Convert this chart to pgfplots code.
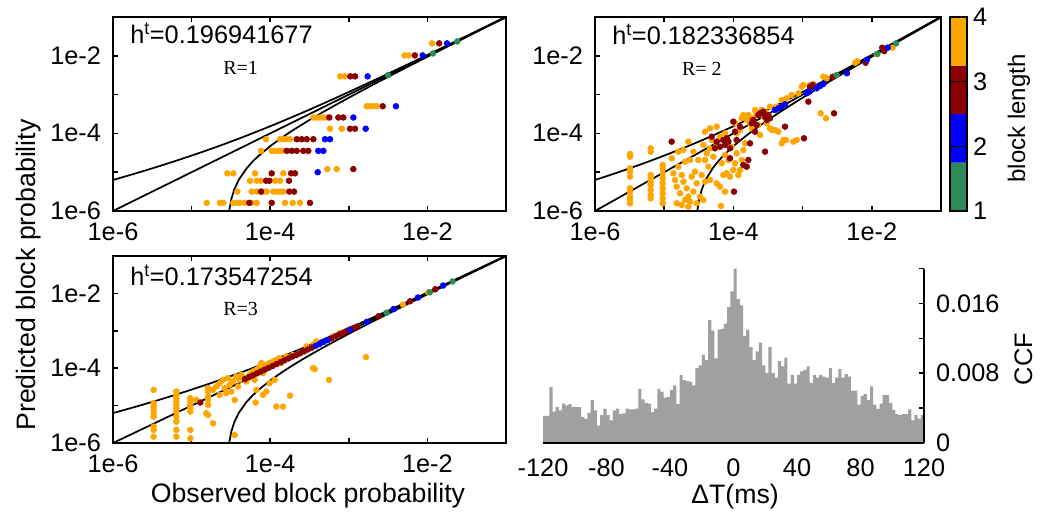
\documentclass[border=0pt]{standalone}
\usepackage{fontspec}
\setmainfont{Liberation Sans}
\newfontfamily\serifR{Liberation Serif}
\usepackage{pgfplots}
\usepackage{pgfplotstable}
\pgfplotsset{compat=1.18}

\definecolor{corange}{HTML}{FFA500}
\definecolor{cred}{HTML}{8B0000}
\definecolor{cblue}{HTML}{0000FF}
\definecolor{cgreen}{HTML}{2E8B57}
\definecolor{cgray}{HTML}{A0A0A0}

% curves in log10 units
\pgfplotstableread{
lx ly
-6 -5.2007
-5.699 -5.0227
-5.523 -4.9144
-5.301 -4.7734
-5 -4.5725
-4.699 -4.3595
-4.523 -4.2289
-4.301 -4.0581
-4 -3.8153
-3.699 -3.5607
-3.523 -3.4069
-3.301 -3.2086
-3 -2.9327
-2.699 -2.6503
-2.523 -2.4828
-2.301 -2.2696
-2 -1.9776
-1.699 -1.683
-1.301 -1.2909
-1 -0.9928
}\upcurve
\pgfplotstableread{
lx ly
-4.5498 -7.26
-4.5452 -6.686
-4.5376 -6.337
-4.5229 -6.013
-4.4949 -5.695
-4.4559 -5.438
-4.3979 -5.188
-4.301 -4.902
-4.2218 -4.7224
-4.1549 -4.5907
-4 -4.3279
-3.8239 -4.0701
-3.699 -3.9029
-3.5229 -3.6815
-3.301 -3.4185
-3 -3.0797
-2.699 -2.7537
-2.301 -2.3349
-2 -2.0237
-1.699 -1.7156
-1.301 -1.3114
-1 -1.0073
}\lowcurve
\pgfplotstableread{
lx ly
-6 -6
-1 -1
}\diagline

\pgfplotstableread{
t ccf
-120 0.0031
-118 0.0031
-116 0.0064
-114 0.0036
-112 0.0041
-110 0.00375
-108 0.0045
-106 0.0043
-104 0.00445
-102 0.0041
-100 0.0041
-98 0.0041
-96 0.0030
-94 0.0028
-92 0.00345
-90 0.0049
-88 0.00375
-86 0.0020
-84 0.0032
-82 0.00395
-80 0.0032
-78 0.0026
-76 0.00375
-74 0.00395
-72 0.0033
-70 0.0034
-68 0.00395
-66 0.00385
-64 0.00385
-62 0.00395
-60 0.0062
-58 0.0050
-56 0.0046
-54 0.0045
-52 0.00355
-50 0.00395
-48 0.0062
-46 0.0059
-44 0.0052
-42 0.0053
-40 0.0061
-38 0.0066
-36 0.00445
-34 0.0078
-32 0.0072
-30 0.0071
-28 0.0070
-26 0.0066
-24 0.0086
-22 0.0089
-20 0.0101
-18 0.0095
-16 0.0141
-14 0.0129
-12 0.0097
-10 0.0130
-8 0.0131
-6 0.0137
-4 0.0156
-2 0.0174
0 0.0200
2 0.0165
4 0.0158
6 0.0123
8 0.0130
10 0.0110
12 0.0095
14 0.0105
16 0.0115
18 0.0089
20 0.0080
22 0.0110
24 0.0080
26 0.0075
28 0.0094
30 0.0088
32 0.0098
34 0.0068
36 0.0078
38 0.0068
40 0.0078
42 0.0082
44 0.0084
46 0.0088
48 0.0069
50 0.0078
52 0.0075
54 0.0078
56 0.0076
58 0.0075
60 0.0086
62 0.0069
64 0.0075
66 0.0085
68 0.0075
70 0.0079
72 0.0076
74 0.0060
76 0.0060
78 0.0044
80 0.0054
82 0.0056
84 0.0049
86 0.0065
88 0.0044
90 0.0039
92 0.0045
94 0.0055
96 0.0055
98 0.0046
100 0.0038
102 0.0033
104 0.0032
106 0.0033
108 0.0033
110 0.00385
112 0.0026
114 0.0032
116 0.0028
118 0.0032
120 0.0032
}\ccftable

\pgfplotsset{
  sc/.style={
    scale only axis, anchor=north west,
    xmin=-6, xmax=-1, ymin=-6, ymax=-1,
    xtick={-6,-5,-4,-3,-2}, xticklabels={1e-6,,1e-4,,1e-2},
    ytick={-6,-5,-4,-3,-2}, yticklabels={1e-6,,1e-4,,1e-2},
    tick align=inside, ytick pos=left, xtick pos=both,
    major tick length=3.75pt,
    axis line style={line width=1.5pt},
    tick style={line width=1.2pt, black},
    tick label style={font=\fontsize{19}{22}\selectfont},
    xticklabel style={yshift=-5.5pt},
    yticklabel style={xshift=-5.5pt},
  },
  pts/.style={only marks, mark=*, mark size=2.2pt},
  crv/.style={black, line width=1.3pt},
}

\begin{document}
\begin{tikzpicture}
\useasboundingbox (0,0) rectangle (783pt,-386.25pt);

% ---------------- Panel 1 (R=1) ----------------
\begin{axis}[sc, at={(84.75pt,-12.75pt)}, width=294.75pt, height=145.5pt]
\addplot[crv] table {\diagline};
\addplot[crv, smooth] table {\upcurve};
\addplot[crv] table {\lowcurve};
\addplot[pts, corange] coordinates {
(-4.808,-5.79) (-4.639,-5.79) (-4.596,-5.79) (-4.469,-5.79) (-4.427,-5.79) (-4.384,-5.79) (-4.321,-5.79) (-4.236,-5.79) (-4.172,-5.79) (-3.812,-5.79) (-3.714,-5.79) (-3.621,-5.79)
(-4.418,-5.50) (-4.236,-5.50) (-4.172,-5.50) (-4.087,-5.50) (-4.045,-5.50) (-3.960,-5.50) (-3.918,-5.50) (-3.875,-5.50) (-3.833,-5.50)
(-4.257,-5.22) (-4.172,-5.22) (-4.121,-5.22) (-3.939,-5.22) (-3.875,-5.22)
(-4.545,-5.03) (-4.469,-5.03) (-4.194,-5.03) (-3.833,-5.03)
(-3.273,-4.92) (-3.154,-4.92)
(-4.117,-4.45) (-3.981,-4.45) (-3.939,-4.45) (-3.897,-4.45) (-3.854,-4.45)
(-4.053,-4.15) (-3.875,-4.15) (-3.833,-4.15) (-3.791,-4.15) (-3.748,-4.15)
(-3.239,-3.88) (-3.091,-3.88)
(-3.451,-3.59) (-3.409,-3.59) (-3.367,-3.59) (-3.324,-3.59) (-3.282,-3.59)
(-2.773,-3.30) (-2.730,-3.30) (-2.688,-3.30) (-2.646,-3.30)
(-3.11,-2.53) (-3.05,-2.53)
(-2.29,-1.99) (-2.24,-1.99)
(-1.94,-1.68)
};
\addplot[pts, cred] coordinates {
(-4.265,-5.79) (-3.981,-5.79) (-3.494,-5.79)
(-4.117,-5.50) (-3.757,-5.50) (-3.697,-5.50)
(-4.053,-5.22) (-4.011,-5.22) (-3.761,-5.22)
(-3.981,-5.03) (-3.735,-5.03) (-3.685,-5.03)
(-2.942,-4.92)
(-3.791,-4.45) (-3.727,-4.45) (-3.663,-4.45) (-3.579,-4.45) (-3.515,-4.45)
(-3.663,-4.15) (-3.600,-4.15) (-3.536,-4.15) (-3.451,-4.15)
(-2.985,-3.88) (-2.921,-3.88)
(-3.248,-3.59) (-3.133,-3.59) (-3.070,-3.59)
(-2.569,-3.30)
(-2.98,-2.53) (-2.92,-2.53)
(-2.16,-1.99)
(-1.85,-1.68)
};
\addplot[pts, cblue] coordinates {
(-3.396,-5.00) (-3.388,-4.45) (-3.324,-4.45) (-3.303,-4.15) (-3.239,-4.15)
(-2.785,-3.88) (-2.942,-3.59) (-2.400,-3.30) (-2.76,-2.53) (-2.06,-1.99) (-1.75,-1.68)
};
\addplot[pts, cgreen] coordinates {(-2.50,-2.50) (-1.93,-1.94) (-1.62,-1.63)};
\end{axis}

% ---------------- Panel 2 (R=2) ----------------
\begin{axis}[sc, at={(446.25pt,-12.75pt)}, width=259.5pt, height=145.5pt]
\addplot[crv] table {\diagline};
\addplot[crv, smooth] table {\upcurve};
\addplot[crv] table {\lowcurve};
\addplot[pts, corange] coordinates {
(-5.494,-4.531) (-5.494,-4.600) (-5.494,-4.900) (-5.494,-4.986) (-5.494,-5.115) (-5.494,-5.416) (-5.494,-5.501) (-5.494,-5.630) (-5.494,-5.716) (-5.494,-5.802)
(-5.195,-4.385) (-5.195,-4.471) (-5.195,-5.072) (-5.195,-5.158) (-5.195,-5.244) (-5.195,-5.330) (-5.195,-5.459) (-5.195,-5.587) (-5.195,-5.673)
(-5.022,-4.814) (-5.022,-4.900) (-5.022,-5.029) (-5.022,-5.158) (-5.022,-5.287) (-5.022,-5.416) (-5.022,-5.544) (-5.022,-5.673) (-5.022,-5.802)
(-4.892,-4.642) (-4.868,-5.029) (-4.844,-5.201) (-4.820,-5.373) (-4.796,-4.857) (-4.771,-5.544) (-4.747,-5.072) (-4.723,-5.244)
(-4.699,-4.728) (-4.675,-5.416) (-4.651,-5.630) (-4.627,-5.759) (-4.603,-5.115) (-4.579,-5.501) (-4.820,-5.802) (-4.747,-5.845)
(-4.699,-5.716) (-4.627,-4.685) (-4.579,-4.471) (-4.651,-4.213) (-4.723,-4.428) (-4.796,-4.471) (-4.555,-4.986) (-4.531,-5.287)
(-4.507,-4.685) (-4.482,-5.630) (-4.458,-5.072) (-4.434,-4.299) (-4.410,-4.685) (-4.386,-4.514) (-4.362,-4.857) (-4.338,-4.385)
(-4.314,-4.170) (-4.290,-4.600) (-4.410,-5.244) (-4.338,-5.201) (-4.242,-5.287) (-4.242,-4.299) (-4.193,-4.084) (-4.169,-4.771)
(-4.145,-5.072) (-4.121,-4.557) (-4.097,-5.029) (-4.073,-4.685) (-4.049,-5.115) (-4.025,-4.342) (-4.001,-4.943) (-3.977,-4.771)
(-3.953,-4.514) (-3.929,-5.072) (-3.904,-3.912) (-3.880,-4.685) (-3.856,-4.428) (-3.832,-4.256) (-3.808,-3.654) (-3.784,-3.526)
(-3.760,-3.740) (-3.736,-3.869) (-3.712,-3.611) (-3.664,-3.483) (-3.640,-3.783) (-3.615,-4.041) (-3.567,-3.568) (-3.519,-3.740)
(-3.471,-3.869) (-3.447,-3.912) (-3.399,-3.912) (-3.350,-3.955) (-3.302,-4.256) (-3.278,-4.170) (-3.240,-4.170) (-3.134,-4.213)
(-3.086,-4.170) (-4.410,-3.955) (-4.338,-3.869) (-4.242,-3.826) (-4.121,-3.998) (-3.953,-3.998) (-3.977,-3.740) (-3.880,-3.611)
(-3.856,-3.526) (-3.688,-3.397) (-3.591,-3.397) (-3.543,-3.440) (-3.471,-3.311) (-3.375,-3.311) (-3.302,-3.139) (-3.230,-3.096)
(-3.158,-3.010) (-3.061,-2.967) (-3.013,-2.795) (-2.989,-2.752) (-2.893,-2.752) (-2.845,-2.727) (-2.700,-2.538) (-2.652,-2.581)
(-2.739,-3.483) (-2.662,-3.611)
(-4.193,-5.373) (-4.121,-5.501) (-4.531,-5.802) (-4.434,-5.716) (-4.651,-5.888) (-4.18,-5.87) (-3.904,-4.943)
(-2.21,-2.14) (-2.24,-2.18) (-1.93,-1.96) (-1.70,-1.79)
};
\addplot[pts, cred] coordinates {
(-4.892,-4.213) (-4.314,-4.084) (-4.266,-4.385) (-4.242,-4.213) (-4.193,-4.342) (-4.145,-4.170) (-4.121,-4.299) (-4.097,-4.127)
(-4.073,-4.213) (-4.049,-4.385) (-4.001,-3.697) (-3.977,-3.955) (-3.953,-4.170) (-3.904,-3.826) (-3.856,-4.814) (-3.808,-4.857)
(-3.760,-4.256) (-3.736,-3.740) (-3.712,-3.654) (-3.688,-3.955) (-3.640,-3.526) (-3.615,-3.483) (-3.567,-3.440) (-3.543,-3.568)
(-3.519,-3.654) (-3.495,-3.526) (-3.471,-3.611) (-3.664,-3.783) (-3.543,-4.471) (-3.254,-3.826) (-2.980,-4.127) (-3.991,-5.501)
(-4.049,-4.642) (-3.784,-4.685) (-2.917,-3.182) (-2.893,-2.795) (-2.854,-2.752) (-2.565,-2.538) (-2.546,-3.483)
(-2.09,-2.18) (-1.85,-1.79) (-1.82,-1.88)
};
\addplot[pts, cblue] coordinates {
(-3.399,-3.397) (-3.350,-3.354) (-3.302,-3.311) (-3.254,-3.251) (-2.941,-2.967) (-2.903,-2.924) (-2.797,-2.838) (-2.748,-2.778)
(-2.700,-2.727) (-2.36,-2.45) (-2.07,-2.10) (-1.77,-1.79)
};
\addplot[pts, cgreen] coordinates {(-2.508,-2.495) (-1.92,-1.95) (-1.65,-1.68)};
\end{axis}

% ---------------- Colour bar ----------------
\begin{axis}[scale only axis, anchor=north west, at={(712.5pt,-12.75pt)},
  width=12.75pt, height=145.5pt, xmin=0, xmax=1, ymin=1, ymax=4,
  xtick=\empty, ytick={1,2,3,4}, yticklabels={1,2,3,4},
  ytick pos=right, yticklabel pos=right,
  tick align=inside, major tick length=12.75pt, axis on top,
  axis line style={line width=1.5pt}, tick style={line width=1.2pt, black},
  tick label style={font=\fontsize{19}{22}\selectfont},
  yticklabel style={xshift=1pt}]
\addplot[fill=cgreen, draw=none] coordinates {(0,1) (1,1) (1,1.75) (0,1.75) (0,1)};
\addplot[fill=cblue, draw=none] coordinates {(0,1.75) (1,1.75) (1,2.5) (0,2.5) (0,1.75)};
\addplot[fill=cred, draw=none] coordinates {(0,2.5) (1,2.5) (1,3.25) (0,3.25) (0,2.5)};
\addplot[fill=corange, draw=none] coordinates {(0,3.25) (1,3.25) (1,4) (0,4) (0,3.25)};
\end{axis}

% ---------------- Panel 3 (R=3) ----------------
\begin{axis}[sc, at={(84.75pt,-192pt)}, width=294.75pt, height=140.25pt]
\addplot[crv] table {\diagline};
\addplot[crv, smooth] table {\upcurve};
\addplot[crv] table {\lowcurve};
\addplot[pts, corange] coordinates {
(-5.483,-4.579) (-5.483,-4.936) (-5.483,-5.026) (-5.483,-5.115) (-5.483,-5.205) (-5.483,-5.294) (-5.483,-5.562) (-5.483,-5.651) (-5.483,-5.830)
(-5.194,-4.624) (-5.194,-4.713) (-5.194,-4.802) (-5.194,-4.892) (-5.194,-4.981) (-5.194,-5.070) (-5.194,-5.160) (-5.194,-5.294) (-5.194,-5.428) (-5.194,-5.651) (-5.194,-5.830)
(-5.016,-4.802) (-5.016,-4.892) (-5.016,-4.981) (-5.016,-5.070) (-5.016,-5.160) (-5.016,-5.651) (-5.016,-5.875)
(-4.791,-4.534) (-4.791,-4.624) (-4.791,-4.758) (-4.791,-4.847) (-4.791,-4.981) (-4.791,-5.249) (-4.728,-5.473)
(-4.728,-4.579) (-4.685,-4.489) (-4.643,-4.400) (-4.643,-4.713) (-4.601,-4.311) (-4.579,-4.534) (-4.558,-4.668) (-4.537,-4.266)
(-4.516,-4.445) (-4.494,-4.624) (-4.473,-4.355) (-4.452,-4.847) (-4.431,-4.221) (-4.410,-4.489) (-4.388,-4.311) (-4.367,-4.177)
(-4.325,-4.266) (-4.304,-4.355) (-4.261,-4.177) (-4.219,-4.087) (-4.198,-4.311) (-4.176,-4.043) (-4.134,-3.953) (-4.113,-3.864)
(-4.092,-4.132) (-4.070,-3.998) (-4.049,-3.909) (-4.007,-3.864) (-3.986,-3.953) (-3.964,-3.819) (-3.922,-3.775) (-3.880,-3.730)
(-3.858,-3.864) (-3.795,-3.685) (-3.710,-3.641) (-3.625,-3.596) (-3.540,-3.417) (-3.455,-3.372) (-3.413,-3.283) (-3.243,-3.238)
(-3.201,-3.149) (-3.116,-3.060) (-4.176,-4.579) (-4.092,-4.713) (-4.049,-4.624) (-4.007,-4.400) (-3.943,-4.311) (-3.922,-5.026)
(-3.837,-5.026) (-4.185,-4.918) (-3.455,-3.998) (-3.434,-4.025) (-3.252,-4.311) (-4.452,-5.785) (-4.813,-5.205) (-4.940,-4.847)
(-3.748,-4.732) (-2.781,-3.703) (-3.00,-2.96) (-2.31,-2.30) (-1.99,-1.97)
};
\addplot[pts, cred] coordinates {
(-4.889,-4.918)
(-4.32,-4.29) (-4.27,-4.24) (-4.22,-4.19) (-4.17,-4.14) (-4.12,-4.09) (-4.07,-4.04) (-4.02,-3.99) (-3.97,-3.94) (-3.92,-3.89)
(-3.87,-3.84) (-3.82,-3.79) (-3.77,-3.74) (-3.72,-3.69) (-3.67,-3.65) (-3.62,-3.60) (-3.57,-3.55) (-3.52,-3.50) (-3.47,-3.45)
(-3.22,-3.20) (-3.17,-3.15) (-3.12,-3.10) (-3.07,-3.05) (-3.03,-3.01) (-2.95,-2.94) (-2.90,-2.89) (-2.62,-2.61) (-2.22,-2.21) (-1.90,-1.89)
};
\addplot[pts, cblue] coordinates {
(-3.42,-3.40) (-3.37,-3.35) (-3.32,-3.30) (-3.27,-3.25) (-2.985,-2.97) (-2.77,-2.76) (-2.43,-2.42) (-2.12,-2.11) (-1.80,-1.79)
};
\addplot[pts, cgreen] coordinates {(-2.52,-2.52) (-1.97,-1.97) (-1.68,-1.68)};
\end{axis}

% ---------------- Panel 4: CCF histogram ----------------
\begin{axis}[scale only axis, anchor=north west, at={(407.25pt,-201.5pt)},
  width=285.75pt, height=130.7pt,
  xmin=-120, xmax=120, ymin=0, ymax=0.02,
  axis x line*=bottom, axis y line*=right, axis on top,
  axis line style={line width=1.8pt},
  xtick={-120,-80,-40,0,40,80,120}, xticklabels={-120,-80,-40,0,40,80,120},
  xtick style={draw=none},
  ytick={0,0.008,0.016}, yticklabels={0,0.008,0.016},
  minor ytick={0.004,0.012,0.02},
  scaled y ticks=false,
  tick align=inside, major tick length=3.75pt, minor tick length=3.75pt,
  ytick style={line width=1.2pt, black},
  tick label style={font=\fontsize{19}{22}\selectfont},
  xticklabel style={yshift=-8pt},
  yticklabel style={xshift=5.5pt}]
\addplot[ybar interval, fill=cgray, draw=none] table[x=t, y=ccf] {\ccftable};
\end{axis}

% ---------------- Texts ----------------
\node[anchor=base west, inner sep=0pt, font=\fontsize{19}{22}\selectfont] at (97.5pt,-32.25pt) {h\textsuperscript{t}=0.196941677};
\node[anchor=base west, inner sep=0pt, font=\fontsize{15}{18}\selectfont\serifR] at (167.25pt,-55.5pt) {R=1};
\node[anchor=base west, inner sep=0pt, font=\fontsize{19}{22}\selectfont] at (459pt,-33pt) {h\textsuperscript{t}=0.182336854};
\node[anchor=base west, inner sep=0pt, font=\fontsize{15}{18}\selectfont\serifR] at (511.3pt,-56.25pt) {R= 2};
\node[anchor=base west, inner sep=0pt, font=\fontsize{19}{22}\selectfont] at (97.5pt,-213.75pt) {h\textsuperscript{t}=0.173547254};
\node[anchor=base west, inner sep=0pt, font=\fontsize{15}{18}\selectfont\serifR] at (167.25pt,-236.25pt) {R=3};

\node[rotate=90, anchor=base, inner sep=0pt, font=\fontsize{20}{24}\selectfont] at (26.25pt,-206.25pt) {Predicted block probability};
\node[anchor=base, inner sep=0pt, font=\fontsize{20}{24}\selectfont] at (231pt,-376.5pt) {Observed block probability};
\node[anchor=base, inner sep=0pt, font=\fontsize{20}{24}\selectfont] at (551.25pt,-377.25pt) {ΔT(ms)};
\node[rotate=90, anchor=base, inner sep=0pt, font=\fontsize{19}{22}\selectfont] at (774pt,-269.25pt) {CCF};
\node[rotate=90, anchor=base, inner sep=0pt, font=\fontsize{18}{22}\selectfont] at (768.75pt,-88.9pt) {block length};
\end{tikzpicture}
\end{document}
